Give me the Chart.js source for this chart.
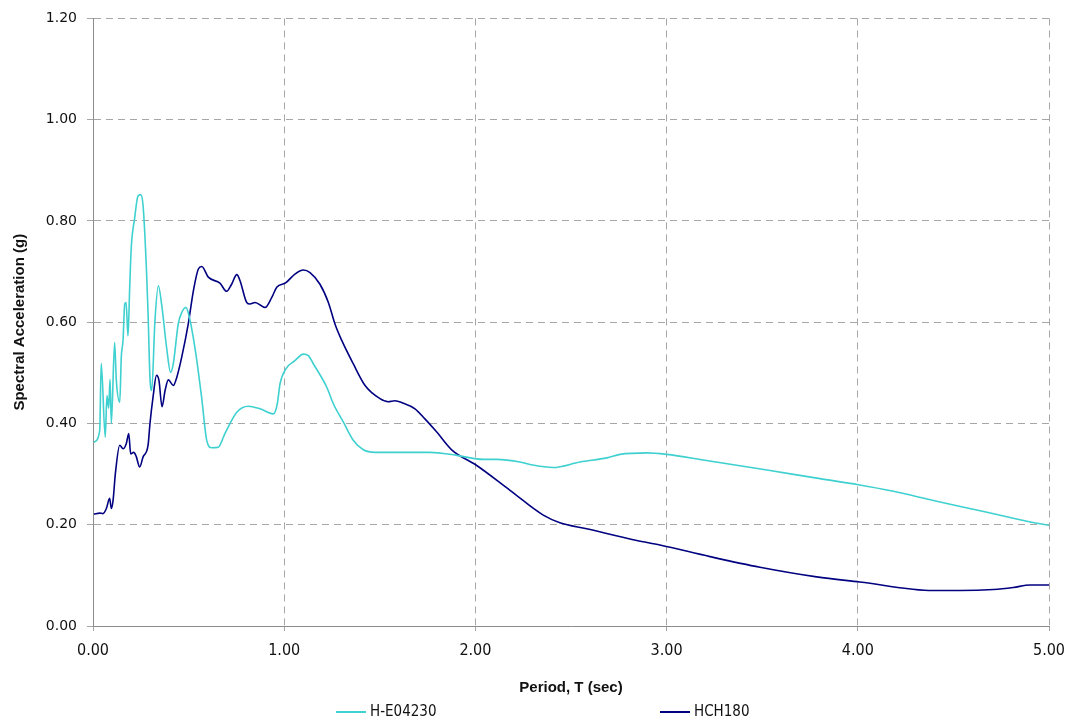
<!DOCTYPE html>
<html lang="en">
<head>
  <meta charset="UTF-8">
  <title>Spectral Acceleration</title>
  <script src="https://cdn.jsdelivr.net/npm/chart.js"></script>
  <style>
    html, body { margin: 0; padding: 0; background: #fff; }
    .wrap { position: relative; width: 1072px; height: 721px; }
    .legend { position: absolute; top: 702px; font: 15px "Liberation Sans Narrow", "DejaVu Sans Condensed", sans-serif; color: #111; }
    .legend span.line { display: inline-block; width: 30px; height: 2px; vertical-align: middle; margin-right: 4px; }
  </style>
</head>
<body>
  <div class="wrap">
    <canvas id="grafico" width="1072" height="721"></canvas>
    <div class="legend" style="left:336px"><span class="line" style="background:#3fd0d0"></span>H-E04230</div>
    <div class="legend" style="left:660px"><span class="line" style="background:#000080"></span>HCH180</div>
  </div>

  <script>
    // H-E04230 record: period (s) and spectral acceleration (g)
    const periodoHE = [0.005, 0.035, 0.043, 0.064, 0.073, 0.082, 0.089, 0.096, 0.113, 0.122, 0.140, 0.148, 0.157,
      0.166, 0.173, 0.183, 0.192, 0.200, 0.218, 0.235, 0.249, 0.262, 0.280, 0.288, 0.298, 0.307, 0.324, 0.342,
      0.359, 0.385, 0.406, 0.420, 0.446, 0.464, 0.485, 0.498, 0.533, 0.568, 0.595, 0.621, 0.655, 0.690, 0.752,
      0.812, 0.873, 0.943, 0.964, 0.978, 1.009, 1.056, 1.100, 1.126, 1.152, 1.222, 1.257, 1.309, 1.361, 1.414,
      1.475, 1.763, 1.902, 2.041, 2.111, 2.233, 2.286, 2.407, 2.547, 2.687, 2.756, 2.896, 3.000, 3.192, 3.541,
      3.802, 4.003, 4.186, 4.395, 4.622, 4.848, 4.883, 5.000];
    const acelHE = [0.363, 0.386, 0.519, 0.373, 0.455, 0.430, 0.487, 0.400, 0.560, 0.485, 0.442, 0.531, 0.564,
      0.636, 0.639, 0.573, 0.669, 0.747, 0.806, 0.849, 0.852, 0.830, 0.700, 0.617, 0.490, 0.465, 0.603, 0.672,
      0.635, 0.550, 0.501, 0.518, 0.597, 0.619, 0.629, 0.619, 0.550, 0.452, 0.366, 0.352, 0.353, 0.380, 0.422,
      0.434, 0.429, 0.419, 0.439, 0.478, 0.508, 0.524, 0.537, 0.534, 0.518, 0.472, 0.439, 0.403, 0.367, 0.348,
      0.343, 0.343, 0.337, 0.329, 0.329, 0.324, 0.319, 0.313, 0.324, 0.332, 0.339, 0.342, 0.339, 0.328, 0.307,
      0.291, 0.279, 0.266, 0.248, 0.229, 0.210, 0.207, 0.199];

    // HCH180 record
    const periodoHC = [0.005, 0.035, 0.052, 0.070, 0.087, 0.096, 0.105, 0.117, 0.140, 0.157, 0.174, 0.187, 0.197,
      0.213, 0.226, 0.244, 0.262, 0.288, 0.298, 0.314, 0.332, 0.345, 0.361, 0.377, 0.394, 0.420, 0.438, 0.464,
      0.498, 0.525, 0.551, 0.569, 0.603, 0.664, 0.699, 0.725, 0.752, 0.769, 0.804, 0.821, 0.847, 0.900, 0.935,
      0.961, 1.009, 1.056, 1.100, 1.135, 1.187, 1.231, 1.266, 1.301, 1.361, 1.423, 1.501, 1.544, 1.579, 1.623,
      1.684, 1.736, 1.798, 1.876, 2.007, 2.181, 2.355, 2.442, 2.582, 2.844, 2.965, 3.227, 3.488, 3.785, 4.011,
      4.395, 4.534, 4.709, 4.813, 4.901, 5.000];
    const acelHC = [0.221, 0.223, 0.222, 0.232, 0.252, 0.232, 0.248, 0.301, 0.357, 0.350, 0.360, 0.380, 0.340,
      0.343, 0.335, 0.314, 0.334, 0.357, 0.400, 0.452, 0.495, 0.485, 0.433, 0.465, 0.486, 0.475, 0.491, 0.531,
      0.596, 0.662, 0.705, 0.710, 0.689, 0.677, 0.661, 0.675, 0.694, 0.682, 0.639, 0.636, 0.639, 0.629, 0.649,
      0.669, 0.678, 0.695, 0.703, 0.698, 0.675, 0.639, 0.596, 0.564, 0.518, 0.475, 0.449, 0.443, 0.445, 0.440,
      0.429, 0.409, 0.383, 0.348, 0.317, 0.268, 0.219, 0.204, 0.192, 0.169, 0.160, 0.137, 0.116, 0.097, 0.087,
      0.070, 0.070, 0.072, 0.076, 0.081, 0.081];

    const xTicks = [0, 1, 2, 3, 4, 5];
    const yTicks = [0, 0.2, 0.4, 0.6, 0.8, 1.0, 1.2];

    function pontos(xs, ys) {
      return xs.map((x, i) => ({ x: x, y: ys[i] }));
    }

    const gradeCor = "#a6a6a6";

    new Chart(document.getElementById("grafico"), {
      type: "line",
      data: {
        datasets: [
          { label: "H-E04230", data: pontos(periodoHE, acelHE), borderColor: "#3fd0d0", borderWidth: 1.6 },
          { label: "HCH180", data: pontos(periodoHC, acelHC), borderColor: "#000080", borderWidth: 1.6 }
        ]
      },
      options: {
        responsive: false,
        animation: false,
        parsing: false,
        elements: {
          point: { radius: 0 },
          line: { cubicInterpolationMode: "monotone" }
        },
        layout: { padding: { top: 17, right: 23, bottom: 0, left: 0 } },
        plugins: { legend: { display: false }, tooltip: { enabled: false } },
        scales: {
          x: {
            type: "linear",
            min: 0, max: 5,
            afterFit: s => { s.height = 95; s.paddingLeft = 0; s.paddingRight = 0; },
            afterBuildTicks: s => { s.ticks = xTicks.map(v => ({ value: v })); },
            ticks: {
              callback: v => v.toFixed(2),
              font: { family: "'Liberation Sans Narrow', 'DejaVu Sans Condensed', sans-serif", size: 16 },
              color: "#111",
              padding: 10,
              maxRotation: 0
            },
            grid: { color: gradeCor, tickLength: 5, tickBorderDash: [], tickColor: gradeCor },
            border: { color: "#8c8c8c", width: 1, dash: [7, 5] },
            title: {
              display: true,
              text: "Period, T (sec)",
              font: { family: "'Liberation Sans', sans-serif", size: 15, weight: "bold" },
              color: "#111",
              padding: { top: 0, bottom: 24 }
            }
          },
          y: {
            type: "linear",
            min: 0, max: 1.2,
            afterFit: s => { s.width = 93; },
            afterBuildTicks: s => { s.ticks = yTicks.map(v => ({ value: v })); },
            ticks: {
              callback: v => v.toFixed(2),
              font: { family: "'DejaVu Sans', sans-serif", size: 14 },
              color: "#111",
              padding: 10
            },
            grid: { color: gradeCor, tickLength: 6, tickBorderDash: [], tickColor: gradeCor },
            border: { color: "#8c8c8c", width: 1, dash: [7, 5] },
            title: {
              display: true,
              text: "Spectral Acceleration (g)",
              font: { family: "'Liberation Sans', sans-serif", size: 15, weight: "bold" },
              color: "#111",
              padding: { top: 11, bottom: 0 }
            }
          }
        }
      }
    });
  </script>
</body>
</html>
